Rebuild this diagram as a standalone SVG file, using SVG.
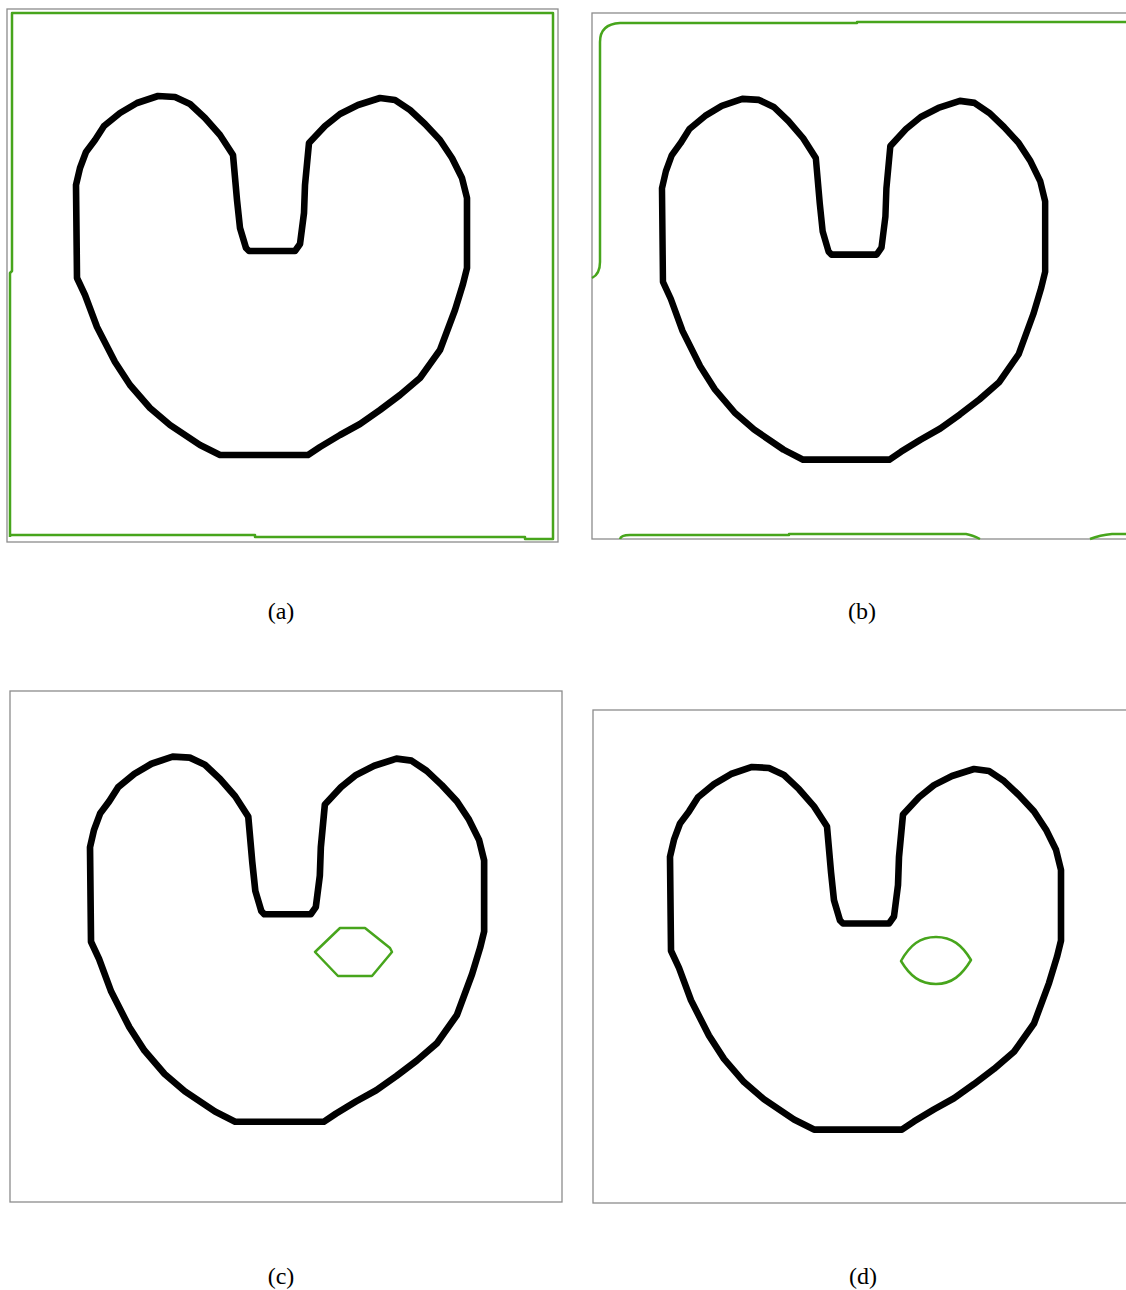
<svg xmlns="http://www.w3.org/2000/svg" width="1126" height="1290" viewBox="0 0 1126 1290">
<style>
.frame{fill:none;stroke:#8c8c8c;stroke-width:1.3}
.shape{fill:none;stroke:#000;stroke-width:6.6;stroke-linejoin:round}
.green{fill:none;stroke:#47a51c;stroke-width:2.5;stroke-linejoin:round}
.cap{font-family:"Liberation Serif","DejaVu Serif",serif;font-size:24px;fill:#000;text-anchor:middle}
</style>
<defs>
<path id="heart" d="M158,96 L175,97 L190,104 L205,118 L220,135 L233,155 L237,200 L240,228 L246,248 L249,251 L295,251 L300,244 L304,213 L305,185 L309,143 L325,126 L340,114 L358,105 L380,98 L395,100 L410,110 L425,124 L440,140 L452,158 L462,178 L467,198 L467,268 L463,284 L455,310 L440,350 L420,378 L400,395 L380,410 L360,424 L340,435 L320,447 L308,455 L220,455 L200,445 L170,425 L150,408 L130,385 L115,362 L97,327 L85,295 L77,278 L76,185 L80,168 L86,152 L95,140 L104,126 L120,113 L137,103 Z"/>
</defs>
<rect width="1126" height="1290" fill="#fff"/>
<g id="panel-a">
<rect class="frame" x="7" y="9" width="551" height="533"/>
<use href="#heart" class="shape"/>
<path class="green" d="M10,537 L10,273 L12,271 L12,13 L553,13 L553,539 L525,539 L525,537 L255,537 L255,535 L10,535"/>
<text class="cap" x="281" y="619">(a)</text>
</g>
<g id="panel-b">
<rect class="frame" x="592" y="13" width="540" height="526"/>
<use href="#heart" class="shape" transform="matrix(0.98,0,0,1.005,587.5,2.4)"/>
<path class="green" d="M592,278 Q600,274 600,262 L600,42 Q600,24 620,23 L857,23 L857,22 L1130,22"/>
<path class="green" d="M620,539 Q621,535 630,535 L789,535 L789,534 L966,534 Q972,535 980,539"/>
<path class="green" d="M1090,539 Q1100,535 1112,534 L1130,534"/>
<text class="cap" x="862" y="619">(b)</text>
</g>
<g id="panel-c">
<rect class="frame" x="10" y="691" width="552" height="511"/>
<use href="#heart" class="shape" transform="matrix(1.008,0,0,1.017,13.4,659)"/>
<path class="green" d="M315,952 L340,928 L365,928 L390,948 L392,952 L372,976 L338,976 Z"/>
<text class="cap" x="281" y="1284">(c)</text>
</g>
<g id="panel-d">
<rect class="frame" x="593" y="710" width="540" height="493"/>
<use href="#heart" class="shape" transform="matrix(1,0,0,1.01,594,670)"/>
<path class="green" d="M901,961 C910,945 920,937 936,937 C952,937 962,945 971,960 C962,975 952,984 936,984 C920,984 910,976 901,961 Z"/>
<text class="cap" x="863" y="1284">(d)</text>
</g>
</svg>
